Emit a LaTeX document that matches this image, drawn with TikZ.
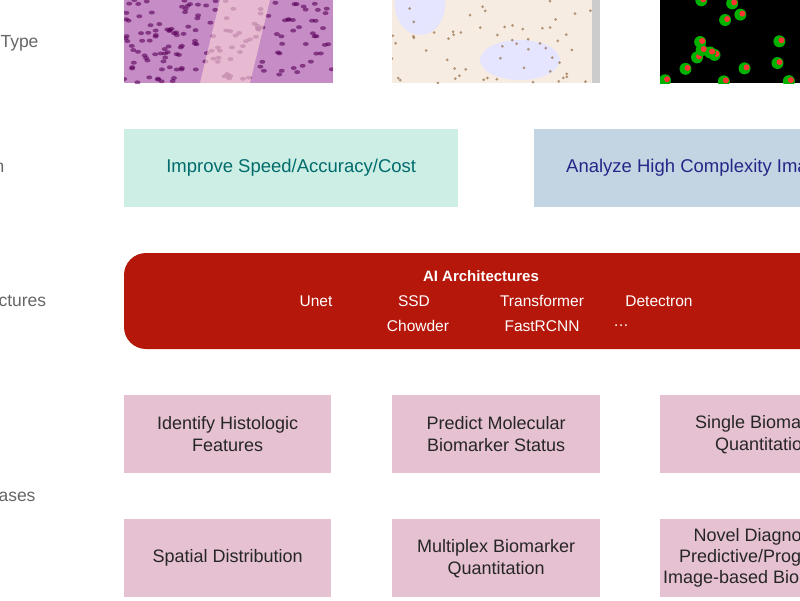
\documentclass[tikz,border=0pt]{standalone}
\usepackage{fontspec}
\setmainfont{Liberation Sans}
\begin{document}
\begin{tikzpicture}[x=1pt,y=-1pt,
  lab/.style={anchor=west,text=black!60,font=\fontsize{17.5}{20}\selectfont},
  box/.style={draw=none,anchor=north west,inner sep=0pt},
  pinkbox/.style={box,fill=pinkc,minimum width=207pt,minimum height=78pt,align=center,font=\fontsize{18}{22}\selectfont,text=black!85}]
\definecolor{pinkc}{HTML}{E6C1D1}
\definecolor{tealc}{HTML}{CDEEE5}
\definecolor{bluec}{HTML}{C3D4E2}
\definecolor{redc}{HTML}{B5170B}
\useasboundingbox (0,0) rectangle (800,600);
\clip (0,0) rectangle (800,600);
\fill[white] (0,0) rectangle (800,600);
% left labels
\node[lab] (l1) at (-3,43) {Type};
\node[lab] (l2) at (-9,168) {n};
\node[lab] (l3) at (-5,301) {ctures};
\node[lab] (l4) at (-5,497) {ases};
% images
\begin{scope}
\clip (124,0) rectangle (333,83);
\fill[violet!45!white] (124,0) rectangle (333,83);
\foreach \i in {1,...,160}{
  \pgfmathsetmacro\xx{124+rnd*209}\pgfmathsetmacro\yy{rnd*83}
  \fill[violet!70!black,opacity=.6] (\xx,\yy) ellipse (3 and 2);}
\fill[pink!60!white,opacity=.6] (220,0) -- (270,0) -- (250,83) -- (200,83) -- cycle;
\end{scope}
\node[box,minimum width=209pt,minimum height=83pt] (img1) at (124,0) {};
\begin{scope}
\clip (392,0) rectangle (600,83);
\fill[brown!15!white] (392,0) rectangle (600,83);
\fill[white!90!blue] (420,5) ellipse (25 and 30);
\fill[white!90!blue] (520,60) ellipse (40 and 20);
\foreach \i in {1,...,60}{
  \pgfmathsetmacro\xx{392+rnd*208}\pgfmathsetmacro\yy{rnd*83}
  \fill[brown!70!black,opacity=.6] (\xx,\yy) circle (1.5);}
\fill[black!20] (592,0) rectangle (600,83);
\end{scope}
\node[box,minimum width=208pt,minimum height=83pt] (img2) at (392,0) {};
\begin{scope}
\clip (660,0) rectangle (800,83);
\fill[black] (660,0) rectangle (800,83);
\foreach \i in {1,...,16}{
  \pgfmathsetmacro\xx{660+rnd*140}\pgfmathsetmacro\yy{rnd*83}
  \fill[green!70!black] (\xx,\yy) circle (6);
  \fill[red!80] (\xx+2,\yy-1) circle (3);}
\end{scope}
\node[box,minimum width=140pt,minimum height=83pt] (img3) at (660,0) {};
% goal boxes
\node[box,fill=tealc,minimum width=334pt,minimum height=78pt,text=teal!85!black,font=\fontsize{18.5}{20}\selectfont] (g1) at (124,129) {Improve Speed/Accuracy/Cost};
\node[box,fill=bluec,minimum width=300pt,minimum height=78pt] (g2) at (534,129) {};
\node[anchor=west,inner sep=0pt,text=blue!45!black!85,font=\fontsize{18.5}{20}\selectfont] (g2t) at (566,168) {Analyze High Complexity Images};
% AI
\fill[redc,rounded corners=22pt] (124,253) rectangle (860,349);
\node[text=white,font=\bfseries\fontsize{15}{16}\selectfont] (ai) at (481,276) {AI Architectures};
\begin{scope}[every node/.style={text=white,font=\fontsize{15.5}{16}\selectfont}]
\node (a1) at (316,301) {Unet};
\node (a2) at (414,301) {SSD};
\node (a3) at (542,301) {Transformer};
\node (a4) at (659,301) {Detectron};
\node (a5) at (418,326) {Chowder};
\node (a6) at (542,326) {FastRCNN};
\node (a7) at (621,326) {\dots};
\end{scope}
% pink boxes
\node[pinkbox] (p1) at (124,395) {Identify Histologic\\Features};
\node[pinkbox,minimum width=208pt] (p2) at (392,395) {Predict Molecular\\Biomarker Status};
\node[pinkbox] (p3) at (660,395) {Single Biomarker\\Quantitation};
\node[pinkbox] (p4) at (124,519) {Spatial Distribution};
\node[pinkbox,minimum width=208pt] (p5) at (392,519) {Multiplex Biomarker\\Quantitation};
\node[pinkbox,font=\fontsize{18}{21}\selectfont] (p6) at (660,519) {Novel Diagnostic/\\Predictive/Prognostic\\Image-based Biomarkers};
\end{tikzpicture}
\end{document}
